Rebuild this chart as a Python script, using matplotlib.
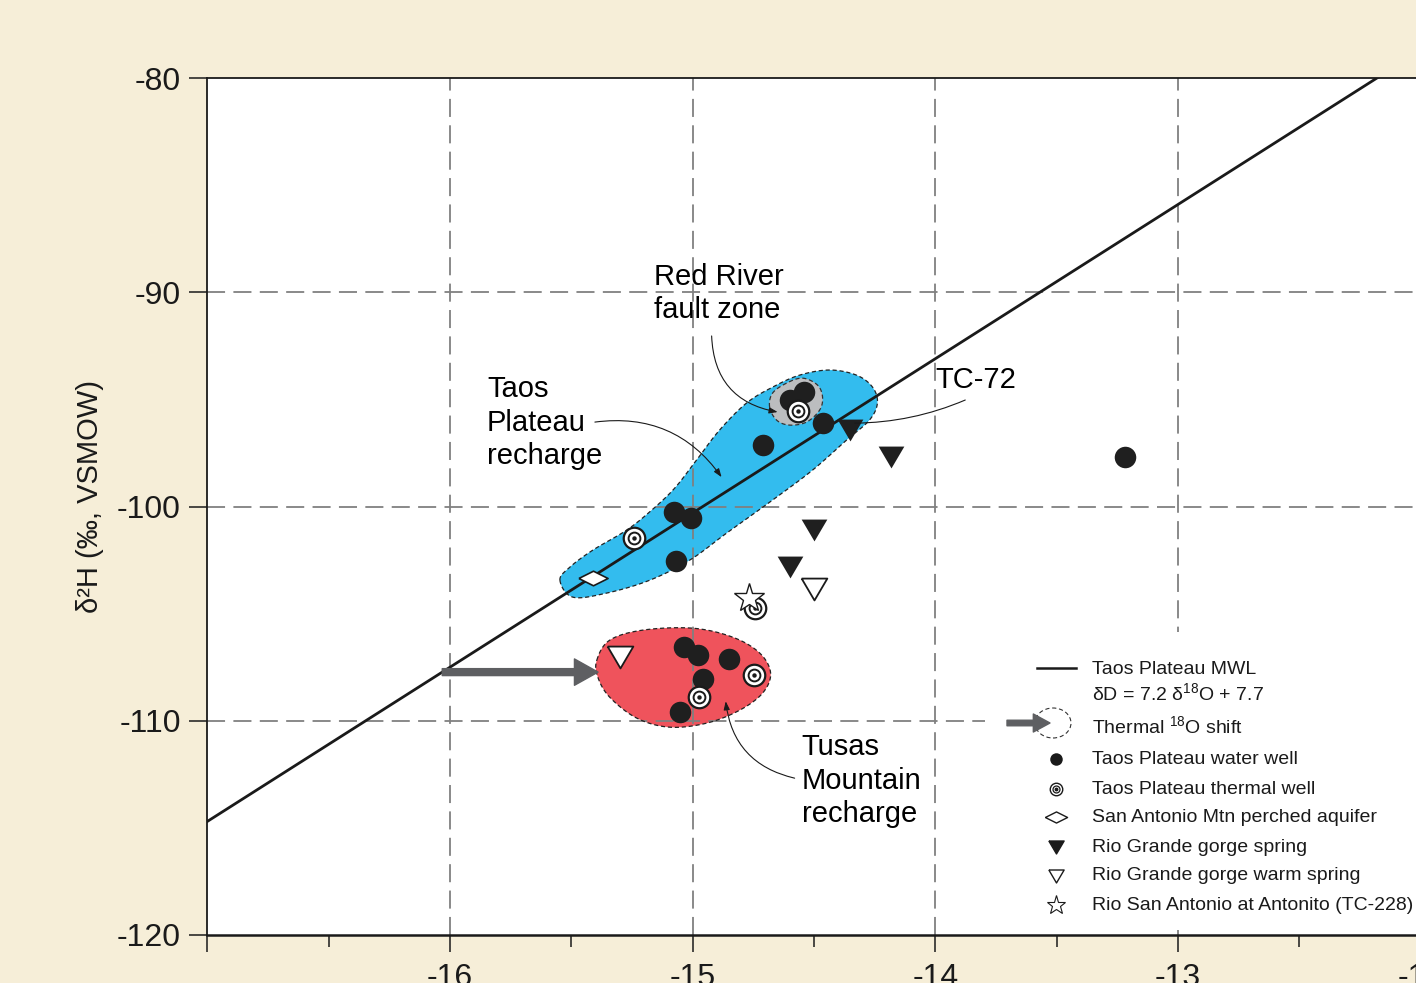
import numpy as np
import matplotlib
matplotlib.use("Agg")
import matplotlib.pyplot as plt
from matplotlib.patches import Polygon, Rectangle, Ellipse, FancyArrowPatch

plt.rcParams['font.family'] = ['Liberation Sans', 'DejaVu Sans']
plt.rcParams['mathtext.fontset'] = 'custom'
plt.rcParams['mathtext.rm'] = 'Liberation Sans'
plt.rcParams['lines.scale_dashes'] = False

# ---------------- data ----------------
# meteoric water line: dD = slope * d18O + intercept
mwl_slope = 7.2
mwl_intercept = 7.7

water_well_x = [-14.54, -14.60, -14.465, -14.71, -15.075, -15.005, -15.07, -13.22,
                -15.037, -14.98, -14.852, -14.959, -15.053]
water_well_y = [-94.66, -95.03, -96.11, -97.13, -100.26, -100.54, -102.55, -97.69,
                -106.56, -106.94, -107.12, -108.06, -109.60]

thermal_well_x = [-14.568, -15.243, -14.975, -14.749, -14.745]
thermal_well_y = [-95.55, -101.48, -108.90, -107.87, -104.74]

perched_x = [-15.412]
perched_y = [-103.34]

gorge_spring_x = [-14.35, -14.181, -14.502, -14.60]
gorge_spring_y = [-96.43, -97.69, -101.10, -102.83]

warm_spring_x = [-14.502, -15.30]
warm_spring_y = [-103.86, -107.03]

antonito_x = [-14.77]
antonito_y = [-104.28]

# outline of the Taos Plateau recharge field
taos_outline_x = [-15.547, -15.494, -15.354, -15.177, -15.012, -14.860, -14.671, -14.506,
                  -14.366, -14.272, -14.239, -14.259, -14.325, -14.436, -14.560, -14.671,
                  -14.778, -14.889, -14.984, -15.074, -15.169, -15.272, -15.412, -15.506]
taos_outline_y = [-103.44, -104.23, -104.04, -103.44, -102.50, -101.24, -99.70, -98.30,
                  -96.90, -95.97, -95.17, -94.43, -93.87, -93.63, -93.87, -94.43,
                  -95.17, -96.43, -97.83, -99.14, -100.17, -101.10, -102.04, -102.83]

# outline of the Tusas Mountain recharge field
tusas_outline_x = [-15.395, -15.342, -15.206, -15.000, -14.835, -14.724, -14.679,
                   -14.712, -14.807, -14.942, -15.095, -15.230, -15.342, -15.391]
tusas_outline_y = [-107.17, -106.24, -105.77, -105.68, -106.10, -106.84, -107.78,
                   -108.71, -109.51, -110.11, -110.30, -109.88, -108.90, -107.96]

# outline of the Red River fault zone group
fault_outline_x = [-14.683, -14.671, -14.613, -14.547, -14.486, -14.465, -14.477,
                   -14.531, -14.601, -14.654]
fault_outline_y = [-95.36, -94.71, -94.24, -94.01, -94.33, -94.89, -95.50,
                   -96.06, -96.20, -95.97]

# thermal 18O shift arrow level and head position
shift_y = -107.73
shift_end_x = -15.39

x_ticks = [-17, -16, -15, -14, -13, -12]
x_tick_labels = ['', '-16', '-15', '-14', '-13', '-12']
y_ticks = [-120, -110, -100, -90, -80]
y_tick_labels = ['-120', '-110', '-100', '-90', '-80']

legend_labels = ['Taos Plateau water well', 'Taos Plateau thermal well',
                 'San Antonio Mtn perched aquifer', 'Rio Grande gorge spring',
                 'Rio Grande gorge warm spring', 'Rio San Antonio at Antonito (TC-228)']

# ---------------- helpers ----------------
def closed_spline(xs, ys, n=24):
    """Closed uniform Catmull-Rom curve through the given points."""
    P = np.column_stack([xs, ys])
    N = len(P)
    t = np.linspace(0, 1, n, endpoint=False)[:, None]
    out = []
    for i in range(N):
        p0, p1, p2, p3 = P[i - 1], P[i], P[(i + 1) % N], P[(i + 2) % N]
        seg = 0.5 * (2 * p1 + (-p0 + p2) * t + (2 * p0 - 5 * p1 + 4 * p2 - p3) * t ** 2
                     + (-p0 + 3 * p1 - 3 * p2 + p3) * t ** 3)
        out.append(seg)
    return np.vstack(out)

tri_down = [(-1, 0.85), (1, 0.85), (0, -0.85), (-1, 0.85)]
diamond = [(-1, 0), (0, 0.5), (1, 0), (0, -0.5), (-1, 0)]

cream = '#f6eed8'
blue = '#33bcee'
red = '#ef4a53'
grey_fill = '#bcbdbf'
arrow_grey = '#5e5f62'
grid_grey = '#808080'
ink = '#1a1a1a'

# ---------------- figure ----------------
W, H = 1416, 983
ax_left, ax_width = 207.3, 1213.5
ax_bottom_px, ax_top_px = 935, 78
fig = plt.figure(figsize=(W / 100, H / 100), dpi=100, facecolor=cream)
ax = fig.add_axes([ax_left / W, (H - ax_bottom_px) / H, ax_width / W,
                   (ax_bottom_px - ax_top_px) / H])
ax.set_facecolor('white')
ax.set_xlim(-17, -12)
ax.set_ylim(-120, -80)

# grid
for gx in [-16, -15, -14, -13]:
    ax.axvline(gx, color=grid_grey, lw=1.3, ls=(0, (13, 6)), zorder=2)
for gy in [-110, -100, -90]:
    ax.axhline(gy, color=grid_grey, lw=1.3, ls=(0, (13, 6)), zorder=2)

# recharge fields
taos = closed_spline(taos_outline_x, taos_outline_y)
ax.add_patch(Polygon(taos, closed=True, facecolor=blue, edgecolor='none', zorder=1))
ax.add_patch(Polygon(taos, closed=True, facecolor='none', edgecolor='#222222', lw=0.9,
                     ls=(0, (3, 2)), zorder=3))
tusas = closed_spline(tusas_outline_x, tusas_outline_y)
ax.add_patch(Polygon(tusas, closed=True, facecolor=red, edgecolor='none', alpha=0.95, zorder=1))
ax.add_patch(Polygon(tusas, closed=True, facecolor='none', edgecolor='#222222', lw=0.9,
                     ls=(0, (3, 2)), zorder=3))
fault = closed_spline(fault_outline_x, fault_outline_y)
ax.add_patch(Polygon(fault, closed=True, facecolor=grey_fill, edgecolor='#333333', lw=0.9,
                     ls=(0, (3, 2)), zorder=3))

# meteoric water line
mx = np.array([-17.0, -12.0])
ax.plot(mx, mwl_slope * mx + mwl_intercept, color=ink, lw=2.0, zorder=4)

# thermal shift arrow starting on the MWL
shift_start_x = (shift_y - mwl_intercept) / mwl_slope
ax.add_patch(FancyArrowPatch((shift_start_x, shift_y), (shift_end_x, shift_y),
                             arrowstyle='simple,head_width=19,head_length=17,tail_width=5',
                             mutation_scale=1, color=arrow_grey, shrinkA=0, shrinkB=0,
                             zorder=4))

# symbols
ax.plot(water_well_x, water_well_y, 'o', ms=15.5, color='#1f1f1f', mec='none', zorder=6)
ax.plot(thermal_well_x, thermal_well_y, 'o', ms=15.5, mfc='white', mec=ink, mew=1.6, zorder=6)
ax.plot(thermal_well_x, thermal_well_y, 'o', ms=8.5, mfc='white', mec=ink, mew=1.4, zorder=6)
ax.plot(thermal_well_x, thermal_well_y, 'o', ms=3.2, color=ink, mec='none', zorder=6)
ax.plot(perched_x, perched_y, marker=diamond, ls='none', ms=21, mfc='white', mec=ink, mew=1.2, zorder=6)
ax.plot(gorge_spring_x, gorge_spring_y, marker=tri_down, ls='none', ms=18.5, color='#1f1f1f', mec='none', zorder=6)
ax.plot(warm_spring_x, warm_spring_y, marker=tri_down, ls='none', ms=18.5, mfc='white', mec=ink, mew=1.3, zorder=6)
ax.plot(antonito_x, antonito_y, '*', ms=22, mfc='white', mec=ink, mew=1.0, zorder=7)

# labels with leader lines
txt_kw = dict(fontsize=21, color='black', ha='left', va='center', linespacing=1.25, zorder=8)
ax.text(-15.16, -90.05, 'Red River\nfault zone', **txt_kw)
ax.text(-15.848, -96.1, 'Taos\nPlateau\nrecharge', **txt_kw)
ax.text(-14.0, -94.10, 'TC-72', **txt_kw)
ax.text(-14.551, -112.8, 'Tusas\nMountain\nrecharge', **txt_kw)

lead_kw = dict(arrowstyle='-|>,head_length=0.5,head_width=0.18', color=ink, lw=0.8,
               shrinkA=0, shrinkB=0, mutation_scale=10)
ax.annotate('', xy=(-14.650, -95.59), xytext=(-14.922, -92.04),
            arrowprops=dict(connectionstyle='arc3,rad=0.4', **lead_kw), zorder=8)
ax.annotate('', xy=(-14.881, -98.63), xytext=(-15.403, -96.06),
            arrowprops=dict(connectionstyle='arc3,rad=-0.3', **lead_kw), zorder=8)
ax.annotate('', xy=(-14.333, -96.11), xytext=(-13.877, -95.03),
            arrowprops=dict(connectionstyle='arc3,rad=-0.1', arrowstyle='-', color=ink,
                            lw=0.8, shrinkA=0, shrinkB=0), zorder=8)
ax.annotate('', xy=(-14.864, -109.09), xytext=(-14.580, -112.68),
            arrowprops=dict(connectionstyle='arc3,rad=-0.35', **lead_kw), zorder=8)

# axes styling
for s in ['left', 'top', 'bottom']:
    ax.spines[s].set_color(ink)
    ax.spines[s].set_linewidth(1.3)
ax.spines['bottom'].set_linewidth(1.8)
ax.spines['right'].set_visible(False)
ax.set_xticks(x_ticks)
ax.set_xticklabels(x_tick_labels)
ax.set_xticks(np.arange(-16.5, -12, 1.0), minor=True)
ax.set_yticks(y_ticks)
ax.set_yticklabels(y_tick_labels)
ax.tick_params(axis='x', which='major', direction='out', length=12.5, width=1.1,
               labelsize=23, pad=8, colors=ink)
ax.tick_params(axis='x', which='minor', direction='out', length=8.5, width=1.1, colors=ink)
ax.tick_params(axis='y', direction='out', length=13, width=1.1, labelsize=23, pad=6,
               colors=ink)
ax.set_ylabel('δ²H (‰, VSMOW)', fontsize=21, color=ink)
ax.yaxis.set_label_coords(-0.085, 0.512)

# legend panel, placed in axes-fraction coordinates
T = ax.transAxes

def fx(px):
    return (px - ax_left) / ax_width

def fy(py):
    return (ax_bottom_px - py) / (ax_bottom_px - ax_top_px)

ax.add_patch(Rectangle((fx(985), fy(930)), fx(1420) - fx(985), fy(632) - fy(930),
                       transform=T, facecolor='white', edgecolor='none', zorder=5))

leg_kw = dict(transform=T, fontsize=14, ha='left', va='center', color=ink, zorder=9)
ax.plot([fx(1037), fx(1076)], [fy(668), fy(668)], color=ink, lw=1.8, transform=T, zorder=9)
ax.text(fx(1092), fy(670), 'Taos Plateau MWL', **leg_kw)
ax.text(fx(1092), fy(693), r'δD = 7.2 δ$\mathregular{^{18}}$O + 7.7', **leg_kw)
ax.add_patch(Ellipse((fx(1053), fy(723)), 36 / ax_width, 30 / (ax_bottom_px - ax_top_px),
                     transform=T, facecolor='none', edgecolor='#333333', lw=0.8,
                     ls=(0, (3, 2)), zorder=9))
ax.add_patch(FancyArrowPatch((fx(1007), fy(723)), (fx(1050), fy(723)), transform=T,
                             arrowstyle='simple,head_width=13,head_length=12,tail_width=4',
                             mutation_scale=1, color=arrow_grey, shrinkA=0, shrinkB=0, zorder=9))
ax.text(fx(1092), fy(726), r'Thermal $\mathregular{^{18}}$O shift', **leg_kw)

sym_x = fx(1056)
rows = [759, 789, 817, 847, 876, 905]
ax.plot([sym_x], [fy(rows[0])], 'o', ms=9, color=ink, mec='none', transform=T, zorder=9)
ax.plot([sym_x], [fy(rows[1])], 'o', ms=9, mfc='white', mec=ink, mew=1.0, transform=T, zorder=9)
ax.plot([sym_x], [fy(rows[1])], 'o', ms=5, mfc='white', mec=ink, mew=0.9, transform=T, zorder=9)
ax.plot([sym_x], [fy(rows[1])], 'o', ms=1.8, color=ink, transform=T, zorder=9)
ax.plot([sym_x], [fy(rows[2])], marker=diamond, ls='none', ms=16, mfc='white', mec=ink,
        mew=1.0, transform=T, zorder=9)
ax.plot([sym_x], [fy(rows[3])], marker=tri_down, ls='none', ms=11, color=ink, transform=T, zorder=9)
ax.plot([sym_x], [fy(rows[4])], marker=tri_down, ls='none', ms=11, mfc='white', mec=ink,
        mew=1.0, transform=T, zorder=9)
ax.plot([sym_x], [fy(rows[5])], '*', ms=14, mfc='white', mec=ink, mew=0.8, transform=T, zorder=9)
for r, lab in zip(rows, legend_labels):
    ax.text(fx(1092), fy(r), lab, **leg_kw)

fig.savefig('out.png', dpi=100, facecolor=cream)
